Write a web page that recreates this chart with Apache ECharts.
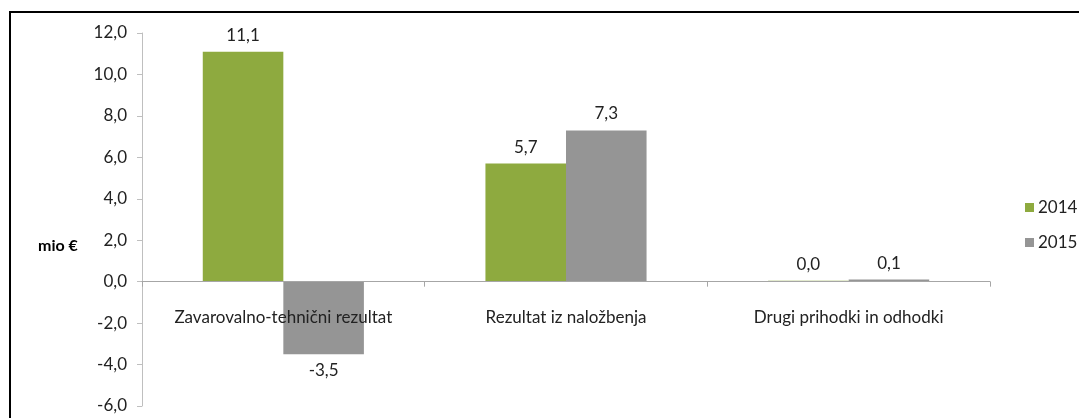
<!DOCTYPE html>
<html>
<head>
<meta charset="utf-8">
<script src="https://cdn.jsdelivr.net/npm/echarts@6/dist/echarts.min.js"></script>
<style>
  html, body { margin: 0; padding: 0; background: #fff; }
  #chart { width: 1079px; height: 418px; }
</style>
</head>
<body>
<div id="chart"></div>
<script>
var categories = ['Zavarovalno-tehnični rezultat', 'Rezultat iz naložbenja', 'Drugi prihodki in odhodki'];
var values2014 = [11.1, 5.7, 0.04];
var values2015 = [-3.5, 7.3, 0.1];
var seriesNames = ['2014', '2015'];
var yTicks = { min: -6, max: 12, step: 2 };

var FONT = 'Lato';
var FS = 17;

//vejica namesto pike
function fmt(v) {
    return Number(v).toFixed(1).replace('.', ',');
}

//negativne vrednosti imajo oznako spodaj
function toItems(arr) {
    return arr.map(function (v) {
        return {
            value: v,
            label: { position: v < 0 ? 'bottom' : 'top' }
        };
    });
}

var myChart = echarts.init(document.getElementById('chart'));
var option = {
    animation: false,
    textStyle: { fontFamily: FONT },
    grid: { left: 142, right: 89, top: 33, bottom: 12, outerBoundsMode: 'none', containLabel: false },
    legend: {
        orient: 'vertical',
        left: 1020,
        top: 194,
        itemWidth: 9,
        itemHeight: 9,
        itemGap: 18,
        icon: 'rect',
        textStyle: { fontFamily: FONT, fontSize: FS, color: '#222', padding: [0, 0, 0, -1] },
        data: seriesNames
    },
    xAxis: {
        type: 'category',
        data: categories,
        z: 10,
        axisLine: { onZero: true, lineStyle: { color: '#a6a6a6', width: 1 } },
        axisTick: { show: true, length: 5, lineStyle: { color: '#a6a6a6' } },
        // oznake so pod ničlo, ne na dnu mreže
        axisLabel: { interval: 0, hideOverlap: false, margin: -97, fontFamily: FONT, fontSize: FS, color: '#222' }
    },
    yAxis: {
        type: 'value',
        min: yTicks.min,
        max: yTicks.max,
        interval: yTicks.step,
        splitLine: { show: false },
        axisLine: { show: true, lineStyle: { color: '#bfbfbf' } },
        axisTick: { show: true, length: 5, lineStyle: { color: '#bfbfbf' } },
        axisLabel: { margin: 15, fontFamily: FONT, fontSize: FS, color: '#222', formatter: fmt }
    },
    series: [
        {
            name: seriesNames[0],
            type: 'bar',
            data: toItems(values2014),
            barGap: '0%',
            barCategoryGap: '43%',
            itemStyle: { color: '#8eaa3f' },
            label: { show: true, distance: 8, fontFamily: FONT, fontSize: FS, color: '#222', formatter: function (p) { return fmt(p.value); } }
        },
        {
            name: seriesNames[1],
            type: 'bar',
            data: toItems(values2015),
            itemStyle: { color: '#959595' },
            label: { show: true, distance: 8, fontFamily: FONT, fontSize: FS, color: '#222', formatter: function (p) { return fmt(p.value); } }
        }
    ],
    graphic: [
        {
            type: 'rect',
            shape: { x: 10, y: 12, width: 1200, height: 600 },
            style: { fill: 'none', stroke: '#000', lineWidth: 2 },
            silent: true
        },
        {
            type: 'text',
            left: 38,
            top: 238,
            style: { text: 'mio €', font: 'bold 16px ' + FONT, fill: '#000' }
        }
    ]
};
myChart.setOption(option);
</script>
</body>
</html>
